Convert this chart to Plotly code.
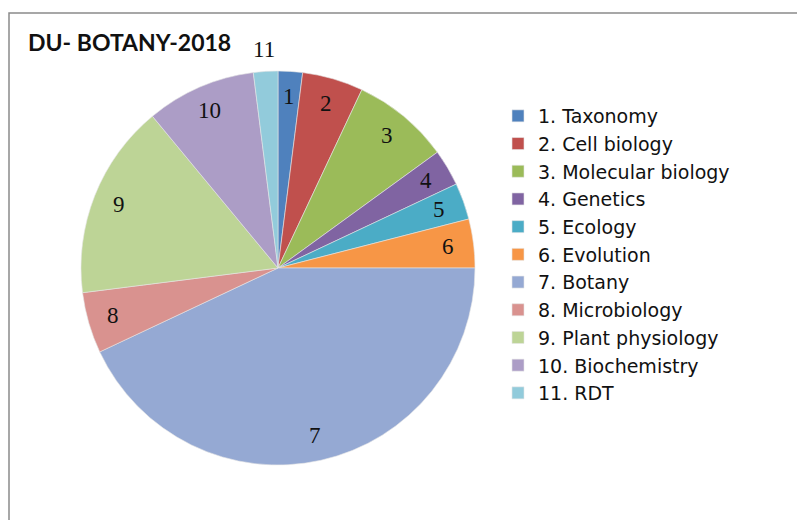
import math
import plotly.graph_objects as go

categories = ["1. Taxonomy", "2. Cell biology", "3. Molecular biology", "4. Genetics",
              "5. Ecology", "6. Evolution", "7. Botany", "8. Microbiology",
              "9. Plant physiology", "10. Biochemistry", "11. RDT"]
slice_labels = ["1", "2", "3", "4", "5", "6", "7", "8", "9", "10", "11"]
values = [2, 5, 8, 3, 3, 4, 43, 5, 16, 9, 2]
colors = ["#4F81BD", "#C0504D", "#9BBB59", "#8064A2", "#4BACC6", "#F79646",
          "#95A9D3", "#D9928F", "#BDD496", "#AC9DC6", "#92CBDB"]
title = "DU- BOTANY-2018"

# the page body has an 8px margin; work in page pixels and convert
OFF = 8
W, H = 805 - OFF, 520 - OFF


def fx(px):
    return (px - OFF) / W


def fy(py):
    return 1 - (py - OFF) / H


cx, cy, R = 278, 268, 197  # pie centre and radius in page pixels

fig = go.Figure(go.Pie(
    labels=categories, values=values, sort=False, direction="clockwise",
    rotation=0, textinfo="none", hoverinfo="label+value",
    marker=dict(colors=colors, line=dict(color="#e6e6e6", width=0.6)),
    domain=dict(x=[fx(cx - R), fx(cx + R)], y=[fy(cy + R), fy(cy - R)]),
))

# slice number labels placed at the mid-angle of each slice
total = sum(values)
cum = 0
outside = {"11"}
for lab, v in zip(slice_labels, values):
    mid = (cum + v / 2) / total * 2 * math.pi
    cum += v
    rf = 1.11 if lab in outside else 0.87
    px = cx + rf * R * math.sin(mid)
    py = cy - rf * R * math.cos(mid)
    fig.add_annotation(x=fx(px), y=fy(py), xref="paper", yref="paper",
                       xanchor="center", yanchor="middle",
                       text=lab, showarrow=False,
                       font=dict(family="Liberation Serif", size=23, color="#111"))

fig.add_annotation(x=fx(26), y=fy(42), xref="paper", yref="paper", xanchor="left",
                   yanchor="middle", text="<b>" + title + "</b>", showarrow=False,
                   font=dict(family="Lato", size=23, color="#111"))

fig.add_shape(type="rect", xref="paper", yref="paper", x0=1 / W, x1=1.02,
              y0=-0.02, y1=fy(13), line=dict(color="#8a8a8a", width=1.5))

fig.update_layout(
    width=W, height=H, margin=dict(l=0, r=0, t=0, b=0),
    paper_bgcolor="white", plot_bgcolor="white",
    showlegend=True,
    legend=dict(x=fx(498), y=fy(97), xanchor="left", yanchor="top",
                font=dict(family="DejaVu Sans", size=19, color="#111"),
                tracegroupgap=0, itemwidth=30, bgcolor="rgba(0,0,0,0)"),
)

fig.write_html("out.html")
